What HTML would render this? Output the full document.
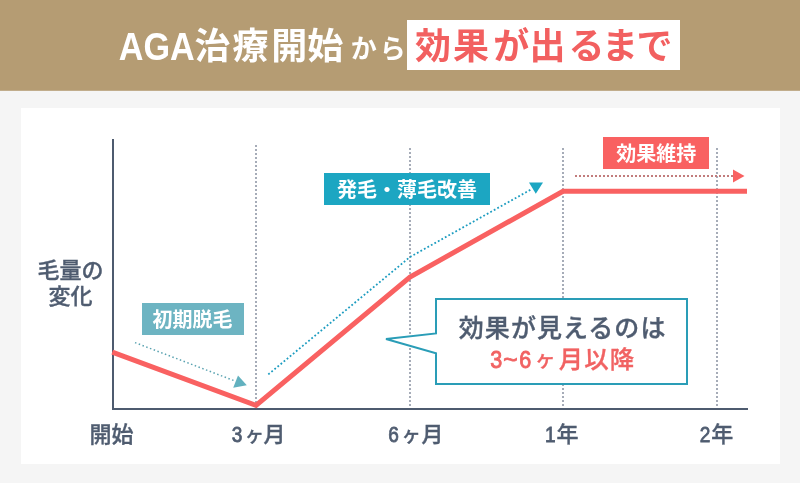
<!DOCTYPE html>
<html lang="ja">
<head>
<meta charset="utf-8">
<title>AGA治療開始から効果が出るまで</title>
<style>
  html, body { margin: 0; padding: 0; }
  body { width: 800px; height: 483px; overflow: hidden; background: #f5f5f5; }
  svg { display: block; }
  text { font-family: "Liberation Sans", "Noto Sans CJK JP", sans-serif; font-weight: 700; }
  .palt { font-feature-settings: "palt" 1; }
  .m text, text.m { font-weight: 500; stroke: #4f5c70; stroke-width: 0.35px; }
  .d { font-size: 21.8px; stroke-width: 0.8px; }
  text.r { stroke: #f16262; }
  .d2 { font-size: 24.6px; stroke-width: 0.9px; }
</style>
</head>
<body>
<svg width="800" height="483" viewBox="0 0 800 483">
  <!-- page background -->
  <rect x="0" y="0" width="800" height="483" fill="#f5f5f5"/>

  <!-- header -->
  <rect x="0" y="0" width="800" height="90.8" fill="#b59c73"/>
  <text transform="translate(118.8,59.6) scale(0.888,1)" font-size="38.5" fill="#ffffff">AGA</text>
  <text x="194.6" y="59" dx="0 0 0.5 -2" font-size="36" fill="#ffffff" letter-spacing="2" class="palt">治療開始</text>
  <text x="350.7" y="57.6" font-size="26" fill="#ffffff" letter-spacing="3.1">から</text>
  <rect x="407" y="20" width="273" height="50" fill="#ffffff"/>
  <text x="415" y="59" dx="0 0 2 -1.5 2 -1 0" font-size="36" fill="#f26060" letter-spacing="2" class="palt">効果が出るまで</text>

  <!-- card -->
  <rect x="21" y="108" width="759" height="356" fill="#ffffff"/>

  <!-- dotted vertical guides -->
  <g stroke="#a6acb8" stroke-width="2" stroke-dasharray="2 2" fill="none">
    <line x1="256" y1="145" x2="256" y2="408"/>
    <line x1="410" y1="148" x2="410" y2="408"/>
    <line x1="563" y1="148" x2="563" y2="408"/>
    <line x1="717" y1="148" x2="717" y2="408"/>
  </g>

  <!-- axes -->
  <line x1="113" y1="139" x2="113" y2="410" stroke="#4e5b6f" stroke-width="2"/>
  <line x1="112" y1="409" x2="748" y2="409" stroke="#4e5b6f" stroke-width="2"/>

  <!-- y label -->
  <text class="m" x="70.5" y="277.8" font-size="22" fill="#4f5c70" text-anchor="middle">毛量の</text>
  <text class="m" x="70.5" y="304.2" font-size="22" fill="#4f5c70" text-anchor="middle">変化</text>

  <!-- x labels -->
  <g class="m" font-size="22" fill="#4f5c70">
    <text x="89.6" y="441.8">開始</text>
    <text y="441.8"><tspan class="d" textLength="10.6" lengthAdjust="spacingAndGlyphs" x="231.8" y="442.2">3</tspan><tspan x="245" y="442.2" font-size="19">ヶ</tspan><tspan x="263.5" y="441.8">月</tspan></text>
    <text y="441.8"><tspan class="d" textLength="10.6" lengthAdjust="spacingAndGlyphs" x="388.3" y="442.2">6</tspan><tspan x="401.8" y="442.2" font-size="19">ヶ</tspan><tspan x="421.5" y="441.8">月</tspan></text>
    <text y="441.8"><tspan class="d" textLength="10.6" lengthAdjust="spacingAndGlyphs" x="545" y="442.2">1</tspan><tspan x="556.5" y="441.8">年</tspan></text>
    <text y="441.8"><tspan class="d" textLength="10.6" lengthAdjust="spacingAndGlyphs" x="699.8" y="442.2">2</tspan><tspan x="711.3" y="441.8">年</tspan></text>
  </g>

  <!-- light teal dotted arrow (initial shedding) -->
  <line x1="135" y1="342.6" x2="235" y2="381" stroke="#5aa3b1" stroke-width="1.5" stroke-dasharray="1.5 2.5"/>
  <polygon points="238,375.6 246.8,385.3 233.2,387.7" fill="#62b1bf"/>

  <!-- blue dotted arrow (growth) -->
  <polyline points="268.3,374.4 410,257 530.8,189.6" fill="none" stroke="#1c9cc0" stroke-width="1.8" stroke-dasharray="1.8 2.2"/>
  <polygon points="529,182.5 543,182.5 535.8,193.8" fill="#1ca6c2"/>

  <!-- red dotted arrow (maintenance) -->
  <line x1="575" y1="176" x2="733" y2="176" stroke="#c27c7c" stroke-width="2" stroke-dasharray="2 2"/>
  <polygon points="733,169.4 744.5,176 733,182.6" fill="#f96161"/>

  <!-- main red line -->
  <polyline points="112.3,352.2 256,405.3 410,277 563,191.3 747,191.3" fill="none" stroke="#f96161" stroke-width="5" stroke-linejoin="miter"/>

  <!-- tags -->
  <rect x="142" y="303" width="102" height="32" fill="#6db4c2"/>
  <text x="192.4" y="327.1" font-size="20" fill="#ffffff" text-anchor="middle">初期脱毛</text>

  <rect x="324" y="173" width="166" height="32" fill="#1ca6c2"/>
  <text x="407" y="197.1" font-size="20" fill="#ffffff" text-anchor="middle">発毛・薄毛改善</text>

  <rect x="603" y="137" width="106" height="32" fill="#f96161"/>
  <text x="656.3" y="161.2" font-size="20" fill="#ffffff" text-anchor="middle">効果維持</text>

  <!-- callout -->
  <path d="M436,299 H687 V384 H436 V353.3 L386,339 L436,333.4 Z" fill="#ffffff" stroke="#2a9db7" stroke-width="2" stroke-linejoin="miter"/>
  <text class="m" x="458.8" y="337.4" font-size="25" fill="#4f5c70" letter-spacing="1.05">効果が見えるのは</text>
  <text class="m r" font-size="25" fill="#f16262"><tspan class="d2" textLength="12" lengthAdjust="spacingAndGlyphs" x="490.3" y="367.6">3</tspan><tspan class="d2" x="503.3" y="367.6">~</tspan><tspan class="d2" textLength="12" lengthAdjust="spacingAndGlyphs" x="519.2" y="367.6">6</tspan><tspan x="534.9" y="366.5" font-size="20.5">ヶ</tspan><tspan x="558.7" y="367.7" font-size="24.4" letter-spacing="1.1">月以降</tspan></text>
</svg>
</body>
</html>
